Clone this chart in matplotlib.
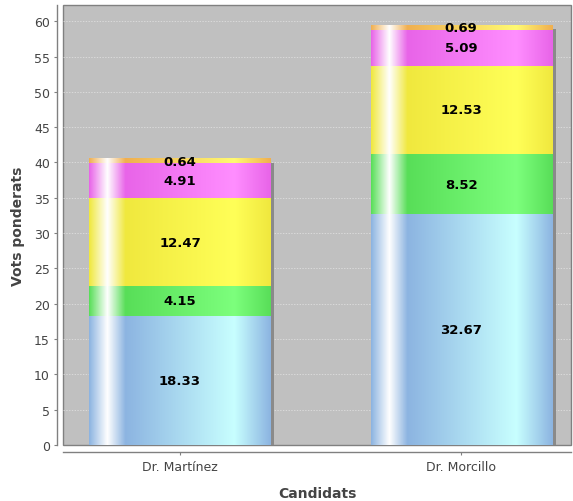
import numpy as np
import matplotlib
matplotlib.use("Agg")
import matplotlib.pyplot as plt
from matplotlib.patches import Rectangle
from matplotlib.transforms import offset_copy

candidates = ["Dr. Martínez", "Dr. Morcillo"]
seg_bottom = [18.33, 32.67]   # blue
seg_2 = [4.15, 8.52]          # green
seg_3 = [12.47, 12.53]        # yellow
seg_4 = [4.91, 5.09]          # magenta
seg_top = [0.64, 0.69]        # orange
series = [seg_bottom, seg_2, seg_3, seg_4, seg_top]

# base colours (JFreeChart style gradient: base -> white -> base -> brighter -> base)
base_colors = [(140, 180, 225), (88, 222, 88), (240, 232, 62), (232, 100, 232), (240, 175, 80)]


def brighter(c):
    return tuple(min(255, int(v / 0.7)) for v in c)


def gradient_row(c):
    c0 = np.array(c) / 255.0
    c1 = np.array(brighter(c)) / 255.0
    w = np.ones(3)
    stops = [0.0, 0.10, 0.20, 0.80, 1.0]
    cols = [c0, w, c0, c1, c0]
    t = np.linspace(0, 1, 300)
    rgb = np.stack([np.interp(t, stops, [cc[k] for cc in cols]) for k in range(3)], axis=-1)
    return rgb[np.newaxis, :, :]


fig = plt.figure(figsize=(5.73, 5.02), dpi=100)
ax = fig.add_axes([63 / 573, 56 / 502, 508 / 573, 440 / 502])
ax.set_facecolor("#c0c0c0")
ax.patch.set_edgecolor("#808080")
ax.patch.set_linewidth(1.0)

ax.set_xlim(-0.416, 1.391)
ax.set_ylim(0, 62.3)
ax.set_yticks(np.arange(0, 61, 5))
ax.grid(axis="y", color="#e4e4e4", linestyle=(0, (2, 2)), linewidth=0.5)
ax.set_axisbelow(True)

width = 0.644
shadow_tr = offset_copy(ax.transData, fig=fig, x=4, y=-4, units="dots")
x = np.arange(len(candidates))
bottoms = np.zeros(len(candidates))
totals = np.sum(series, axis=0)

for i in range(len(candidates)):
    ax.add_patch(Rectangle((x[i] - width / 2, 0), width, totals[i], transform=shadow_tr,
                           facecolor="#8a8a8a", edgecolor="none", zorder=1))

for vals, col in zip(series, base_colors):
    img = gradient_row(col)
    for i, v in enumerate(vals):
        ax.imshow(img, extent=[x[i] - width / 2, x[i] + width / 2, bottoms[i], bottoms[i] + v],
                  aspect="auto", interpolation="bilinear", zorder=2)
        ax.text(x[i], bottoms[i] + v / 2, f"{v:.2f}", ha="center", va="center",
                fontsize=9.5, fontweight="bold", color="black", zorder=3)
    bottoms += np.array(vals)

ax.set_xlim(-0.416, 1.391)
ax.set_ylim(0, 62.3)
ax.set_xticks(x)
ax.set_xticklabels(candidates)

for side in ["top", "right"]:
    ax.spines[side].set_visible(False)
ax.spines["left"].set_position(("outward", 4))
ax.spines["bottom"].set_position(("outward", 5))
for side in ["left", "bottom"]:
    ax.spines[side].set_color("#808080")
    ax.spines[side].set_linewidth(1.0)

ax.tick_params(axis="both", colors="#808080", labelcolor="#444444", labelsize=9, length=2, width=0.8)
ax.tick_params(axis="x", pad=4)
ax.set_ylabel("Vots ponderats", fontsize=10, fontweight="bold", color="#444444", labelpad=6)
ax.set_xlabel("Candidats", fontsize=10, fontweight="bold", color="#444444", labelpad=9)

fig.savefig("out.png", dpi=100)
